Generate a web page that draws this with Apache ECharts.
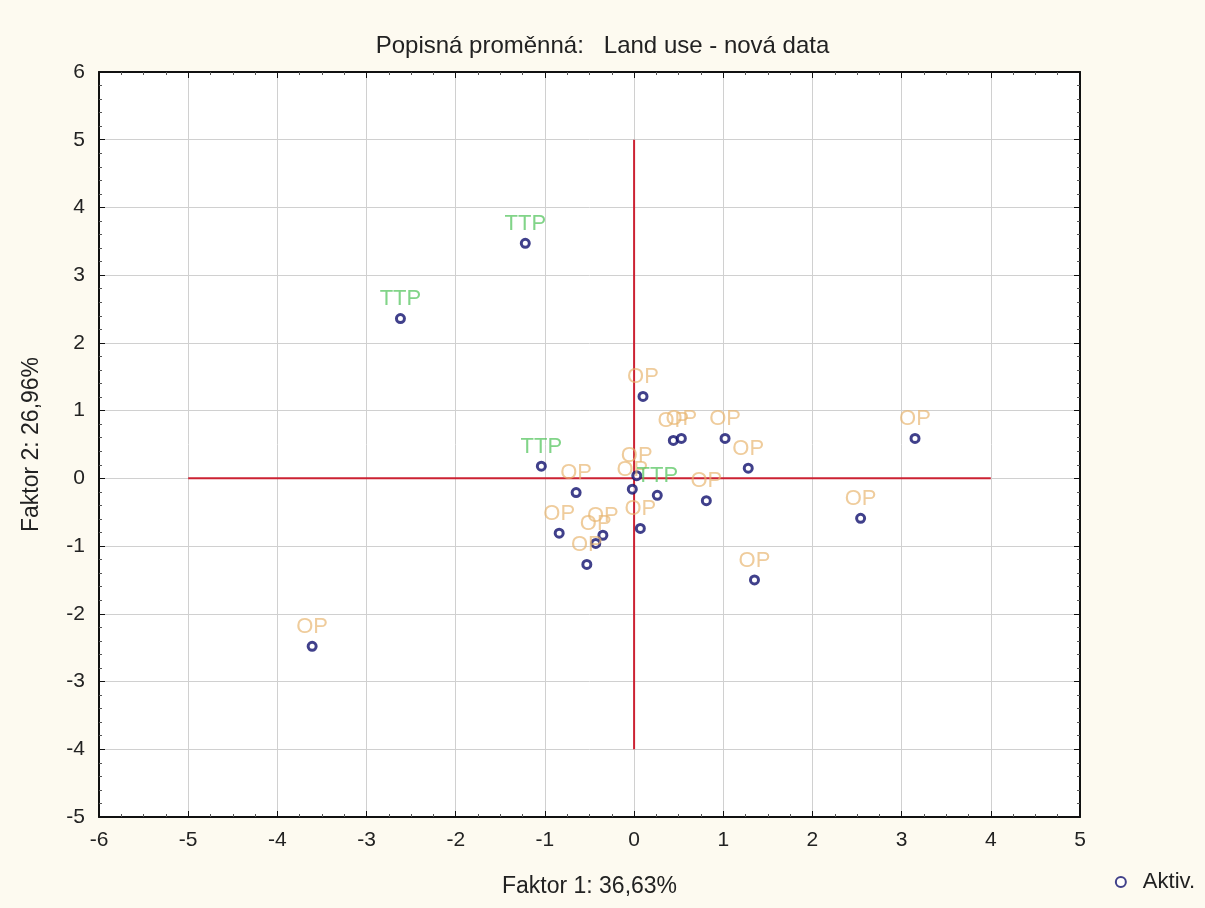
<!DOCTYPE html>
<html>
<head>
<meta charset="utf-8">
<script src="https://cdn.jsdelivr.net/npm/echarts@6/dist/echarts.min.js"></script>
<style>html,body{margin:0;padding:0;background:#fdfaf0;}#c{width:1205px;height:908px;}</style>
</head>
<body>
<div id="c"></div>
<script>
const titleText = 'Popisná proměnná:   Land use - nová data';
const xName = 'Faktor 1: 36,63%';
const yName = 'Faktor 2: 26,96%';
const legendName = 'Aktiv.';
const opPoints = [
  [-3.61, -2.48], [0.10, 1.21], [0.44, 0.56], [0.53, 0.59], [1.02, 0.59],
  [1.28, 0.15], [3.15, 0.59], [-0.65, -0.21], [-0.02, -0.16], [0.03, 0.04],
  [0.81, -0.33], [0.07, -0.74], [-0.84, -0.81], [-0.35, -0.84], [-0.43, -0.96],
  [-0.53, -1.27], [1.35, -1.50], [2.54, -0.59]
];
const ttpPoints = [[-1.22, 3.47], [-2.62, 2.36], [-1.04, 0.18], [0.26, -0.25]];
const hLine = [[-5, 0], [4, 0]];
const vLine = [[0, -4], [0, 5]];

const chart = echarts.init(document.getElementById('c'));
const font = 'Liberation Sans, Arial, sans-serif';
const baseAxis = {
  axisLine: {show: true, onZero: false, lineStyle: {color: '#111', width: 2}},
  axisTick: {show: true, inside: true, length: 6, lineStyle: {color: '#111'}},
  minorTick: {show: true, length: 3, lineStyle: {color: '#555'}},
  axisLabel: {color: '#222', fontSize: 21, fontFamily: font},
  splitLine: {show: true, lineStyle: {color: '#d0d0d0', width: 1}},
  nameTextStyle: {color: '#222', fontSize: 23, fontFamily: font}
};
const mark = {
  symbol: 'circle', symbolSize: 8,
  itemStyle: {color: '#ffffff', borderColor: '#10106e', borderWidth: 3}
};
chart.setOption({
  backgroundColor: '#fdfaf0',
  animation: false,
  title: {text: titleText, left: 'center', top: 29,
    textStyle: {fontSize: 24, fontWeight: 'normal', color: '#222', fontFamily: font}},
  grid: {left: 99, right: 125, top: 72, bottom: 91, show: true, backgroundColor: '#ffffff', borderWidth: 0},
  legend: {data: [legendName], right: 5, bottom: 10, itemWidth: 10, itemHeight: 10, itemGap: 6,
    textStyle: {color: '#222', fontSize: 22, fontFamily: font, padding: [0, 0, 0, 12]}},
  xAxis: [
    Object.assign({}, baseAxis, {type: 'value', min: -6, max: 5, interval: 1, minorTick: Object.assign({}, baseAxis.minorTick, {splitNumber: 4}),
      name: xName, nameLocation: 'middle', nameGap: 58, axisLabel: Object.assign({}, baseAxis.axisLabel, {margin: 13})}),
    {type: 'value', position: 'top', min: -6, max: 5, interval: 1,
      axisLine: {show: true, onZero: false, lineStyle: {color: '#111', width: 2}},
      axisTick: {show: true, inside: true, length: 6, lineStyle: {color: '#111'}},
      minorTick: {show: true, splitNumber: 4, length: 3, lineStyle: {color: '#555'}},
      axisLabel: {show: false}, splitLine: {show: false}}
  ],
  yAxis: [
    Object.assign({}, baseAxis, {type: 'value', min: -5, max: 6, interval: 1, minorTick: Object.assign({}, baseAxis.minorTick, {splitNumber: 5}),
      name: yName, nameLocation: 'middle', nameGap: 56, axisLabel: Object.assign({}, baseAxis.axisLabel, {margin: 14})}),
    {type: 'value', position: 'right', min: -5, max: 6, interval: 1,
      axisLine: {show: true, onZero: false, lineStyle: {color: '#111', width: 2}},
      axisTick: {show: true, inside: true, length: 6, lineStyle: {color: '#111'}},
      minorTick: {show: true, splitNumber: 5, length: 3, lineStyle: {color: '#555'}},
      axisLabel: {show: false}, splitLine: {show: false}}
  ],
  series: [
    {type: 'line', data: hLine, symbol: 'none', silent: true, lineStyle: {color: '#cc2233', width: 2}, z: 3},
    {type: 'line', data: vLine, symbol: 'none', silent: true, lineStyle: {color: '#cc2233', width: 2}, z: 3},
    Object.assign({}, mark, {type: 'scatter', name: legendName, data: opPoints, z: 5,
      label: {show: true, position: 'top', distance: 3, formatter: 'OP', color: 'rgba(232,180,110,0.85)', fontSize: 22, fontFamily: font}}),
    Object.assign({}, mark, {type: 'scatter', name: legendName, data: ttpPoints, z: 5,
      label: {show: true, position: 'top', distance: 3, formatter: 'TTP', color: 'rgba(80,195,90,0.9)', fontSize: 22, fontFamily: font}})
  ]
});
</script>
</body>
</html>
